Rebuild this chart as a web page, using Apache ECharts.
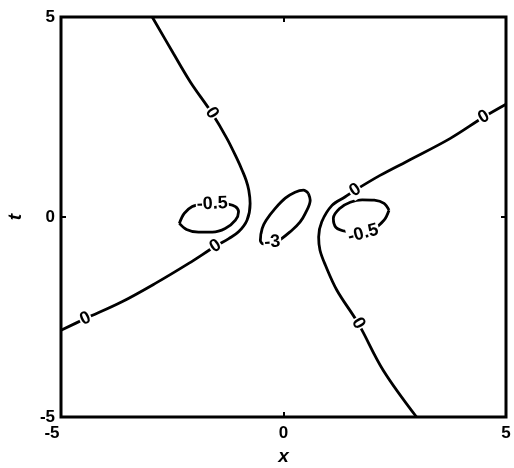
<!DOCTYPE html>
<html>
<head>
<meta charset="utf-8">
<script src="https://cdn.jsdelivr.net/npm/echarts@6/dist/echarts.min.js"></script>
<style>
  html, body { margin: 0; padding: 0; background: #fff; }
  #chart { width: 514px; height: 468px; }
</style>
</head>
<body>
<div id="chart"></div>
<script>
// Axis ranges and tick labels
const xRange = [-5, 5];
const tRange = [-5, 5];
const tickStep = 5;
const xTickLabels = ['-5', '0', '5'];
const tTickLabels = ['-5', '0', '5'];

// Contour level 0: two open branches, points as [x, t]
const zeroBranchLeft = [
  [-2.95, 5.0], [-2.47, 4.08], [-2.09, 3.37], [-1.61, 2.60], [-1.27, 1.96],
  [-1.03, 1.42], [-0.93, 1.17], [-0.84, 0.92], [-0.78, 0.67], [-0.75, 0.34],
  [-0.82, -0.08], [-1.01, -0.37], [-1.23, -0.54], [-1.53, -0.73], [-2.13, -1.16],
  [-2.88, -1.66], [-3.63, -2.12], [-4.45, -2.54], [-5.0, -2.83]
];
const zeroBranchRight = [
  [2.99, -5.0], [2.24, -3.83], [1.68, -2.66], [1.20, -1.83], [0.94, -1.20],
  [0.82, -0.83], [0.79, -0.50], [0.86, -0.12], [1.09, 0.29], [1.38, 0.50],
  [1.61, 0.67], [2.17, 1.04], [2.77, 1.39], [3.74, 1.96], [4.50, 2.50],
  [5.0, 2.82]
];

// Contour level -0.5: two closed loops
const halfLoopLeft = [
  [-2.34, -0.16], [-2.23, 0.09], [-2.05, 0.26], [-1.80, 0.34], [-1.53, 0.37],
  [-1.27, 0.33], [-1.08, 0.26], [-1.01, 0.13], [-1.08, -0.08], [-1.31, -0.29],
  [-1.60, -0.38], [-1.91, -0.38], [-2.18, -0.31], [-2.34, -0.16]
];
const halfLoopRight = [
  [2.37, 0.17], [2.26, 0.34], [2.04, 0.42], [1.77, 0.43], [1.50, 0.37],
  [1.27, 0.22], [1.12, -0.03], [1.18, -0.26], [1.41, -0.36], [1.72, -0.38],
  [2.01, -0.31], [2.26, -0.08], [2.37, 0.17]
];

// Contour level -3: small closed loop round the origin
const centerLoop = [
  [0.56, 0.59], [0.45, 0.67], [0.26, 0.62], [0.04, 0.47], [-0.19, 0.21],
  [-0.39, -0.08], [-0.48, -0.29], [-0.52, -0.58], [-0.46, -0.67], [-0.34, -0.66],
  [-0.15, -0.62], [0.19, -0.33], [0.37, -0.13], [0.49, 0.09], [0.60, 0.42],
  [0.56, 0.59]
];

// Inline contour labels: [x, t, text, angle in degrees]
const contourLabels = [
  [-1.61, 2.60, '0', -57],
  [-1.53, -0.73, '0', 33],
  [-4.45, -2.54, '0', 25],
  [1.68, -2.66, '0', -60],
  [1.61, 0.67, '0', 33],
  [4.50, 2.50, '0', 30],
  [-1.60, 0.33, '-0.5', 3],
  [1.79, -0.41, '-0.5', 15],
  [-0.25, -0.63, '-3', 5]
];

const FONT = 'Liberation Sans';
const chart = echarts.init(document.getElementById('chart'), null, { renderer: 'canvas' });

const contourLine = (name, data) => ({
  name, type: 'line', data,
  xAxisIndex: 0, yAxisIndex: 0,
  showSymbol: false, smooth: 0.35, clip: true,
  lineStyle: { color: '#000', width: 2.8 },
  silent: true, animation: false, z: 2
});

const baseAxis = {
  type: 'value', interval: tickStep,
  axisLine: { show: false, onZero: false },
  splitLine: { show: false },
  axisTick: { show: true, inside: true, length: 5, lineStyle: { color: '#000', width: 2 } }
};

chart.setOption({
  animation: false,
  backgroundColor: '#fff',
  grid: {
    left: 61, right: 8, top: 17, bottom: 51,
    outerBoundsMode: 'none', containLabel: false,
    show: true, borderColor: '#000', borderWidth: 3, backgroundColor: 'transparent'
  },
  xAxis: [
    Object.assign({}, baseAxis, {
      min: xRange[0], max: xRange[1], position: 'bottom',
      name: 'x', nameLocation: 'middle', nameGap: 27,
      nameTextStyle: { fontFamily: FONT, fontSize: 19, fontStyle: 'italic', fontWeight: 'bold', color: '#000' },
      axisLabel: {
        margin: 8, color: '#000', fontFamily: FONT, fontSize: 17, fontWeight: 'bold',
        formatter: v => {
          const s = xTickLabels[xTickLabels.indexOf(String(v))] || String(v);
          return v === xRange[0] ? '{lo|' + s + '}' : s;
        },
        rich: { lo: { fontFamily: FONT, fontSize: 17, fontWeight: 'bold', color: '#000', padding: [0, 18, 0, 0] } }
      }
    }),
    Object.assign({}, baseAxis, {
      min: xRange[0], max: xRange[1], position: 'top',
      axisLabel: { show: false }
    })
  ],
  yAxis: [
    Object.assign({}, baseAxis, {
      min: tRange[0], max: tRange[1], position: 'left',
      name: 't', nameLocation: 'middle', nameGap: 36,
      nameTextStyle: { fontFamily: FONT, fontSize: 19, fontStyle: 'italic', fontWeight: 'bold', color: '#000' },
      axisLabel: {
        margin: 6, color: '#000', fontFamily: FONT, fontSize: 17, fontWeight: 'bold',
        formatter: v => tTickLabels[tTickLabels.indexOf(String(v))] || String(v)
      }
    }),
    Object.assign({}, baseAxis, {
      min: tRange[0], max: tRange[1], position: 'right',
      axisLabel: { show: false }
    })
  ],
  series: [
    contourLine('level 0 left', zeroBranchLeft),
    contourLine('level 0 right', zeroBranchRight),
    contourLine('level -0.5 left', halfLoopLeft),
    contourLine('level -0.5 right', halfLoopRight),
    contourLine('level -3', centerLoop),
    {
      name: 'labels', type: 'scatter', xAxisIndex: 0, yAxisIndex: 0,
      symbolSize: 0, silent: true, animation: false, z: 5,
      itemStyle: { opacity: 1 },
      data: contourLabels.map(([x, t, text, angle]) => ({
        value: [x, t],
        label: {
          show: true, position: 'inside', formatter: text, rotate: angle,
          fontFamily: FONT, fontSize: 18, fontWeight: 'bold', color: '#000',
          backgroundColor: '#fff', padding: [0, 1]
        }
      }))
    }
  ]
});
</script>
</body>
</html>
